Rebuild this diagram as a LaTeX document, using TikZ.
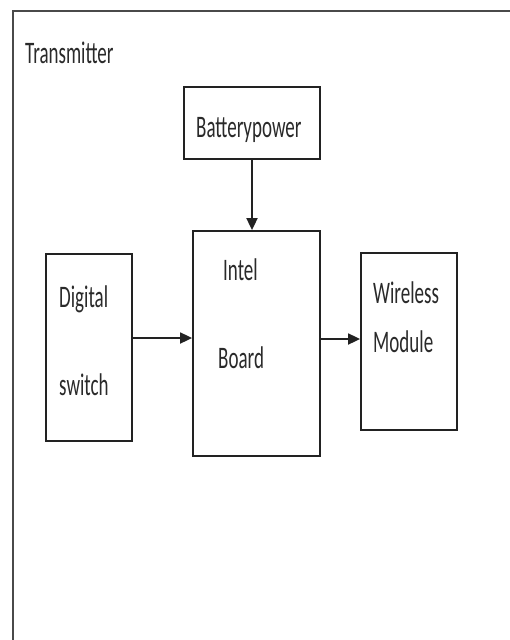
\documentclass[tikz,border=0pt]{standalone}
\usepackage{fontspec}
\setmainfont{Carlito}
\usetikzlibrary{arrows.meta}
\definecolor{framegray}{HTML}{4A4A4A}
\definecolor{boxline}{HTML}{222222}
\definecolor{txtgray}{HTML}{2A2A2A}
\newcommand{\tall}[1]{\scalebox{1}[1.65]{#1}}
\begin{document}
\begin{tikzpicture}[x=1pt,y=-1pt,
  blockbox/.style={draw=boxline,line width=1.8pt,rectangle,inner sep=0pt},
  lbl/.style={anchor=base west,inner sep=0pt,text=txtgray,font=\fontsize{19}{22}\selectfont},
  conn/.style={draw=boxline,line width=1.8pt,-{Triangle[length=12pt,width=11pt]}},
  frameline/.style={draw=framegray,line width=2pt}]
\useasboundingbox (0,0) rectangle (509,640);
\fill[white] (0,0) rectangle (509,640);
% outer frame
\coordinate (ftl) at (13,11);
\coordinate (ftr) at (512,11);
\coordinate (fbl) at (13,643);
\draw[frameline] (fbl) -- (ftl) -- (ftr);
\node[lbl] (tx) at (25,63) {\tall{Transmitter}};
% boxes
\node[blockbox,minimum width=136pt,minimum height=72pt] (batt) at (252,123) {};
\node[blockbox,minimum width=127pt,minimum height=225pt] (intel) at (256.5,343.5) {};
\node[blockbox,minimum width=86pt,minimum height=187pt] (dig) at (89,347.5) {};
\node[blockbox,minimum width=96pt,minimum height=177pt] (wire) at (409,341.5) {};
% labels
\node[lbl] (battl) at (196,137) {\tall{Batterypower}};
\node[lbl] (intl1) at (223,280) {\tall{Intel}};
\node[lbl] (intl2) at (218,368) {\tall{Board}};
\node[lbl] (digl1) at (59,307) {\tall{Digital}};
\node[lbl] (digl2) at (59,395) {\tall{switch}};
\node[lbl] (wirl1) at (373,303) {\tall{Wireless}};
\node[lbl] (wirl2) at (373,352) {\tall{Module}};
% connectors
\coordinate (rowa) at (0,338);
\coordinate (rowb) at (0,339);
\draw[conn] (batt.south) -- (batt.south |- intel.north);
\draw[conn] (dig.east |- rowa) -- (intel.west |- rowa);
\draw[conn] (intel.east |- rowb) -- (wire.west |- rowb);
\end{tikzpicture}
\end{document}
